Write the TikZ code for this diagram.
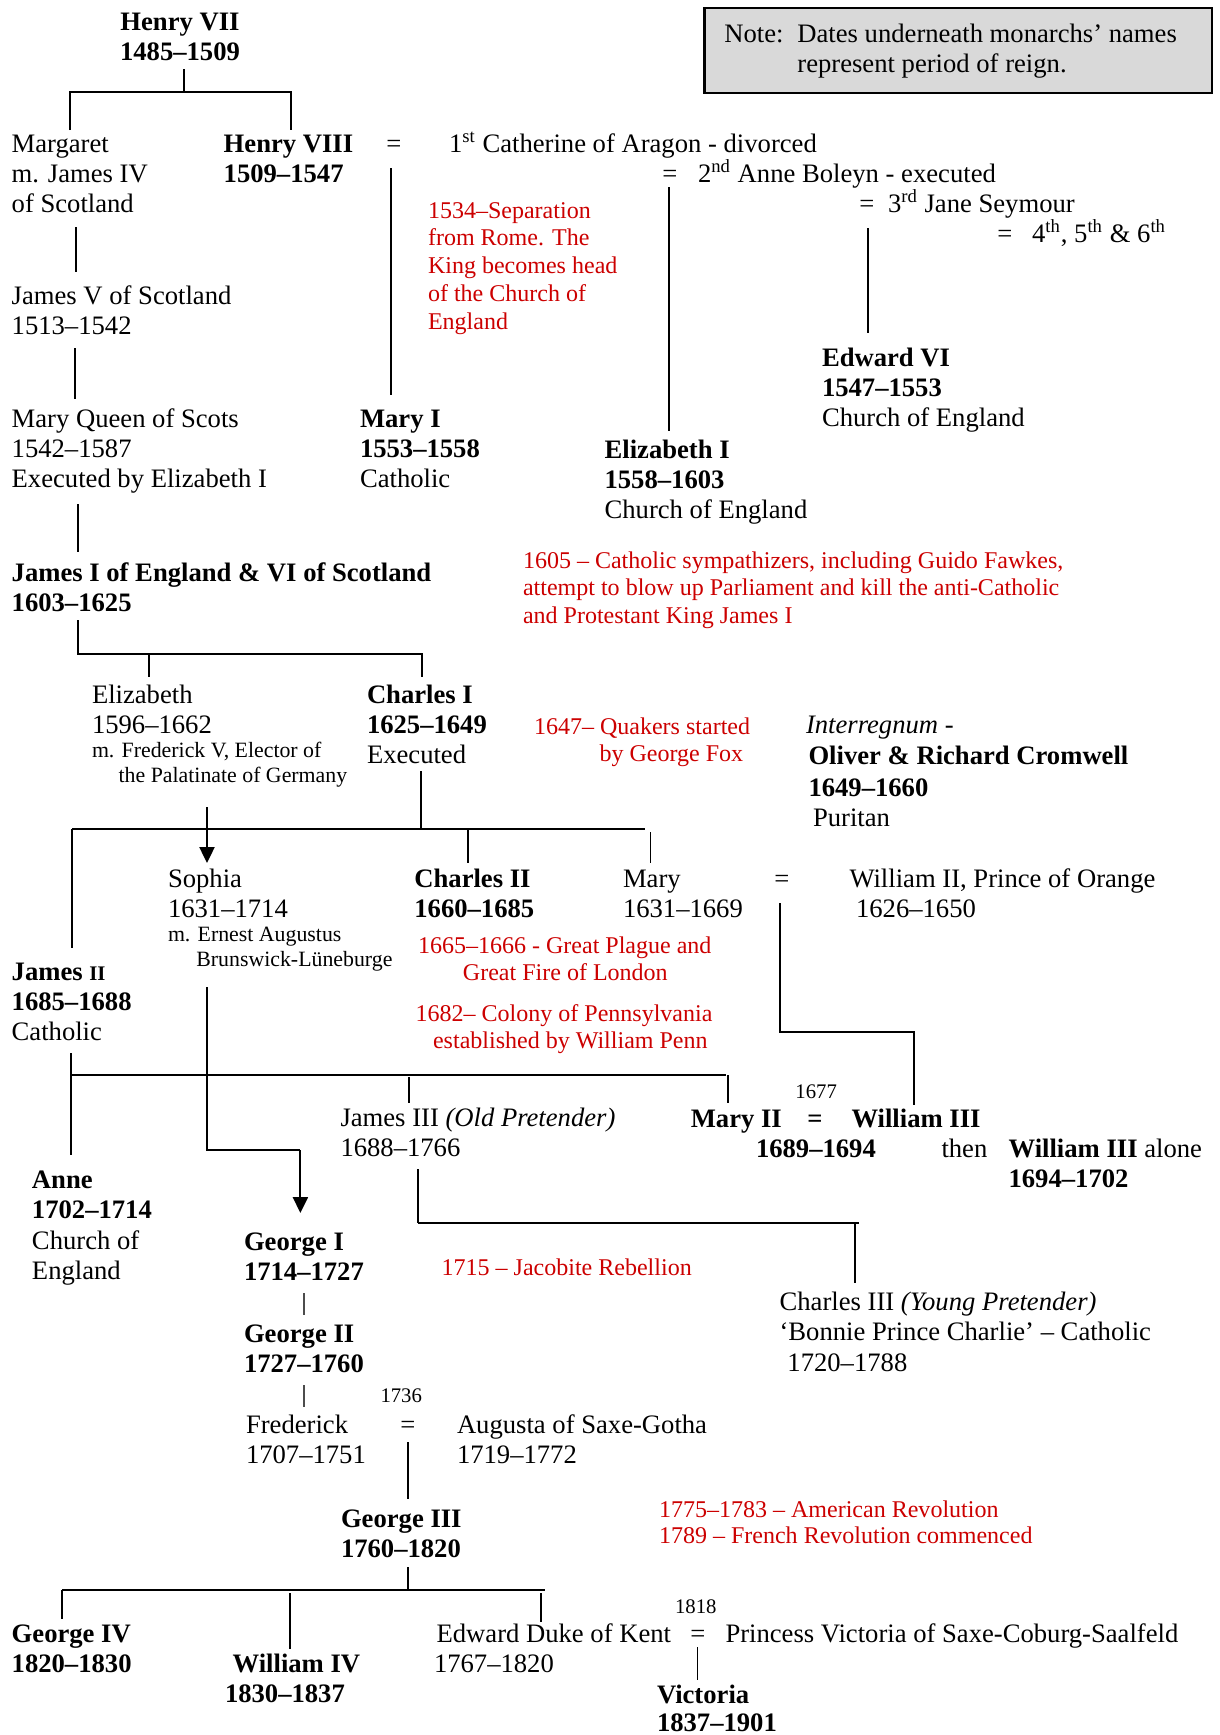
\documentclass[tikz,border=0pt]{standalone}
\usepackage{fontspec}
\setmainfont{Liberation Serif}
\usetikzlibrary{arrows.meta}
\definecolor{evred}{RGB}{204,0,0}
\definecolor{notegray}{RGB}{217,217,217}
\newcommand\ml[1]{\begin{tabular}[t]{@{}l@{}}#1\end{tabular}}
\newcommand\mlc[1]{\begin{tabular}[t]{@{}c@{}}#1\end{tabular}}
\tikzset{
  txt/.style={anchor=base west, inner sep=0pt, outer sep=0pt, font=\fontsize{12.2}{13.74}\selectfont},
  bld/.style={txt, font=\fontsize{12.2}{13.74}\selectfont\bfseries},
  eqs/.style={anchor=base, inner sep=0pt, font=\fontsize{12.2}{13.74}\selectfont},
  ev/.style={txt, text=evred, font=\fontsize{11}{12.7}\selectfont},
  sml/.style={txt, font=\fontsize{10}{11.45}\selectfont},
  yr/.style={txt, font=\fontsize{9.5}{11}\selectfont},
  ln/.style={line width=0.9pt},
  hl/.style={line width=0.6pt},
  tk/.style={line width=0.5pt, draw=black!70},
  arr/.style={line width=0.9pt, -{Triangle[width=6.9pt,length=7.3pt]}}
}
\begin{document}
\begin{tikzpicture}[x=0.458pt, y=-0.458pt]
\useasboundingbox (0,0) rectangle (1219,1735);
% note box
\node[draw, line width=1.1pt, fill=notegray, minimum width=507.3*0.458pt, minimum height=85.3*0.458pt, anchor=north west, inner sep=0pt] (notebox) at (703.4,6.7) {};
\node[txt] (notelbl) at (724.4,42) {Note:};
\node[txt] (notetxt) at (797.4,42) {\ml{Dates underneath monarchs’ names\\represent period of reign.}};
% Henry VII
\node[bld, anchor=base] (h7) at (180,30) {\mlc{Henry VII\\1485–1509}};
\draw[ln] (184.4,69) -- (184.4,92);
\draw[ln] (70.4,130) -- (70.4,92) -- (290.7,92) -- (290.7,130);
\node[txt] (marg) at (11.7,152) {\ml{Margaret\\m. James IV\\of Scotland}};
\node[bld] (h8) at (223.7,152) {\ml{Henry VIII\\1509–1547}};
\node[eqs] (eq1) at (394,152) {=};
\node[txt] (cath) at (449,152) {1\textsuperscript{st} Catherine of Aragon - divorced};
\node[eqs] (eq2) at (670,182) {=};
\node[txt] (anneb) at (698,182) {2\textsuperscript{nd} Anne Boleyn - executed};
\node[eqs] (eq3) at (867,212) {=};
\node[txt] (jane) at (888,212) {3\textsuperscript{rd} Jane Seymour};
\node[eqs] (eq4) at (1005,242) {=};
\node[txt] (others) at (1032,242) {4\textsuperscript{th}, 5\textsuperscript{th} \& 6\textsuperscript{th}};
\draw[ln] (75.9,227) -- (75.9,272);
\node[txt] (j5) at (11.7,304) {\ml{James V of Scotland\\1513–1542}};
\draw[ln] (391,168) -- (391,395);
\node[ev, font=\fontsize{11}{12.82}\selectfont] (r1534) at (428,218) {\ml{1534–Separation\\from Rome. The\\King becomes head\\of the Church of\\England}};
\draw[ln] (669,187) -- (669,431);
\draw[ln] (867.7,228) -- (867.7,333);
\draw[ln] (74.7,348) -- (74.7,399);
\node[txt] (mqs) at (11.7,427) {\ml{Mary Queen of Scots\\1542–1587\\Executed by Elizabeth I}};
\node[txt] (mary1) at (360,427) {\ml{\textbf{Mary I}\\\textbf{1553–1558}\\Catholic}};
\node[txt] (edw6) at (822,366) {\ml{\textbf{Edward VI}\\\textbf{1547–1553}\\Church of England}};
\node[txt] (eliz1) at (604.6,458) {\ml{\textbf{Elizabeth I}\\\textbf{1558–1603}\\Church of England}};
\draw[ln] (77.8,504) -- (77.8,552);
\node[bld] (j1) at (11.7,581) {\ml{James I of England \& VI of Scotland\\1603–1625}};
\node[ev, font=\fontsize{11}{12.6}\selectfont] (r1605) at (523,568) {\ml{1605 – Catholic sympathizers, including Guido Fawkes,\\attempt to blow up Parliament and kill the anti-Catholic\\and Protestant King James I}};
\draw[ln] (77.8,620) -- (77.8,654) -- (422,654) -- (422,677);
\draw[ln] (149,654) -- (149,677);
% Stuart generation
\node[txt] (elizb) at (92,703) {\ml{Elizabeth\\1596–1662}};
\node[sml] (elizm) at (92,757) {\ml{m. Frederick V, Elector of\\\hspace*{12.2pt}the Palatinate of Germany}};
\node[txt] (c1) at (367,703) {\ml{\textbf{Charles I}\\\textbf{1625–1649}\\Executed}};
\node[ev] (r1647) at (534,734) {\ml{1647– Quakers started\\\hspace*{30pt}by George Fox}};
\node[txt] (interr) at (806,733) {\textit{Interregnum} -};
\node[bld] (crom) at (808.5,764) {Oliver \& Richard Cromwell};
\node[bld] (cromyr) at (808.5,796) {1649–1660};
\node[txt] (purit) at (813,826) {Puritan};
\draw[ln] (421,771) -- (421,829);
\draw[hl] (72,829) -- (644.6,829);
\draw[ln] (72,829) -- (72,948);
\draw[ln] (467.7,829) -- (467.7,863);
\draw[ln] (650.5,832) -- (650.5,863);
\draw[arr] (207,807) -- (207,863);
\node[txt] (sophia) at (168,887) {\ml{Sophia\\1631–1714}};
\node[sml] (sophm) at (168,941) {\ml{m. Ernest Augustus\\\hspace*{13pt}Brunswick-Lüneburge}};
\node[bld] (c2) at (414.4,887) {\ml{Charles II\\1660–1685}};
\node[txt] (marys) at (623,887) {\ml{Mary\\1631–1669}};
\node[eqs] (eq5) at (782,887) {=};
\node[txt] (w2) at (849.5,887) {\ml{William II, Prince of Orange\\\hspace*{3pt}1626–1650}};
\node[ev] (r1665) at (418,953) {\ml{1665–1666 - Great Plague and\\\hspace*{20.6pt}Great Fire of London}};
\node[ev] (r1682) at (415.6,1021) {\ml{1682– Colony of Pennsylvania\\\hspace*{8pt}established by William Penn}};
\node[txt] (j2) at (11.7,980) {\ml{\textbf{James {\fontsize{9.5}{10}\selectfont II}}\\\textbf{1685–1688}\\Catholic}};
\draw[ln] (780.4,903) -- (780.4,1032) -- (914,1032) -- (914,1105);
\draw[ln] (207,987) -- (207,1150) -- (300.4,1150);
\draw[arr] (300.4,1150) -- (300.4,1213);
\draw[ln] (70.8,1053) -- (70.8,1155);
\draw[hl] (70.8,1075) -- (726,1075);
\draw[ln] (408.6,1077) -- (408.6,1103);
\draw[ln] (728,1075) -- (728,1103);
\node[txt] (j3) at (340.5,1126) {\ml{James III \textit{(Old Pretender)}\\1688–1766}};
\node[yr] (y1677) at (795.4,1098) {1677};
\node[bld] (mary2) at (690.8,1127) {Mary II};
\node[eqs, font=\fontsize{12.2}{13.74}\selectfont\bfseries] (eq6) at (815,1127) {=};
\node[bld] (w3) at (851.5,1127) {William III};
\node[bld] (mwyr) at (756,1157) {1689–1694};
\node[txt] (then) at (941.5,1157) {then};
\node[txt] (w3a) at (1008.6,1157) {\ml{\textbf{William III} alone\\\textbf{1694–1702}}};
\draw[ln] (418,1169) -- (418,1223);
\draw[hl] (418,1223) -- (858.6,1223);
\draw[ln] (854.6,1223) -- (854.6,1283);
\node[txt, font=\fontsize{12.2}{14.0}\selectfont] (anne) at (32,1188) {\ml{\textbf{Anne}\\\textbf{1702–1714}\\Church of\\England}};
\node[bld] (g1) at (244,1250) {\ml{George I\\1714–1727}};
\node[ev] (r1715) at (441.6,1275) {1715 – Jacobite Rebellion};
\node[txt, font=\fontsize{12.2}{14.0}\selectfont] (c3) at (779.6,1310) {\ml{Charles III \textit{(Young Pretender)}\\‘Bonnie Prince Charlie’ – Catholic\\\hspace*{3.6pt}1720–1788}};
\draw[tk] (304,1293) -- (304,1315);
\node[bld] (g2) at (244,1342) {\ml{George II\\1727–1760}};
\draw[tk] (304,1385) -- (304,1407);
\node[yr] (y1736) at (380.5,1402) {1736};
\node[txt] (fred) at (246,1433) {\ml{Frederick\\1707–1751}};
\node[eqs] (eq7) at (408,1433) {=};
\node[txt] (aug) at (457,1433) {\ml{Augusta of Saxe-Gotha\\1719–1772}};
\draw[ln] (407.8,1442) -- (407.8,1499);
\node[bld] (g3) at (341,1527) {\ml{George III\\1760–1820}};
\node[ev, font=\fontsize{11}{11.9}\selectfont] (r1775) at (659,1517) {\ml{1775–1783 – American Revolution\\1789 – French Revolution commenced}};
\draw[ln] (408,1567) -- (408,1590);
\draw[hl] (62,1590) -- (545,1590);
\draw[ln] (62,1590) -- (62,1619);
\draw[ln] (290,1593) -- (290,1649);
\draw[ln] (541,1593) -- (541,1622);
\node[bld] (g4) at (11.7,1642) {\ml{George IV\\1820–1830}};
\node[bld] (w4) at (225,1672) {\ml{\hspace*{3.5pt}William IV\\1830–1837}};
\node[txt] (edk) at (434,1642) {\ml{\hspace*{1.2pt}Edward Duke of Kent\\1767–1820}};
\node[yr] (y1818) at (675,1613) {1818};
\node[eqs] (eq8) at (698,1642) {=};
\node[txt] (pvic) at (725.5,1642) {Princess Victoria of Saxe-Coburg-Saalfeld};
\draw[ln] (697.5,1647) -- (697.5,1680);
\node[txt, font=\fontsize{12.2}{13.1}\selectfont\bfseries] (vic) at (657,1703) {\ml{Victoria\\1837–1901}};
\end{tikzpicture}
\end{document}
